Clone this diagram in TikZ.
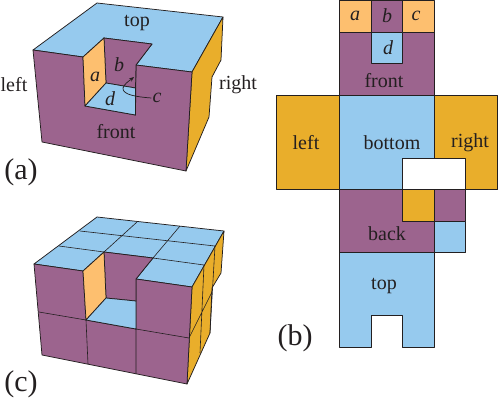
\documentclass[tikz,border=0pt]{standalone}
\usepackage{fontspec}
\setmainfont{Liberation Serif}
\usetikzlibrary{arrows.meta}
\definecolor{pur}{HTML}{9C648E}
\definecolor{blu}{HTML}{96CAEE}
\definecolor{yel}{HTML}{E9AE2B}
\definecolor{lor}{HTML}{FDBF6F}
\definecolor{ink}{HTML}{231F20}
\tikzset{
 face/.style={draw=ink,line width=0.75pt,line join=round},
 grid line/.style={draw=ink,line width=0.6pt},
 lab/.style={text=ink,font=\fontsize{20}{20}\selectfont,inner sep=0pt},
 ilab/.style={text=ink,font=\fontsize{20}{20}\selectfont\itshape,inner sep=0pt},
 plab/.style={text=ink,font=\fontsize{30}{30}\selectfont,inner sep=0pt},
}
\begin{document}
\begin{tikzpicture}[x=1pt,y=-1pt]
\useasboundingbox (0,0) rectangle (498,405);
% ---------- (a)
\draw[face,fill=blu] (97,3)--(223,17)--(192,72)--(136,65)--(152,44)--(104,38)--(83,57)--(33,50)--cycle;
\draw[face,fill=yel] (223,17)--(221,60)--(212,77)--(209,117)--(186,171)--(192,72)--cycle;
\draw[face,fill=pur] (33,50)--(83,57)--(85,106)--(135.5,115)--(136,65)--(192,72)--(186,171)--(42,142)--cycle;
\draw[face,fill=pur] (104,38)--(152,44)--(136,65)--(135.5,88)--(106,83)--cycle;
\draw[face,fill=lor] (83,57)--(104,38)--(106,83)--(85,106)--cycle;
\draw[face,fill=blu] (106,83)--(135.5,88)--(135.5,115)--(85,106)--cycle;
\node[lab] (atop) at (137,23) {top};
\node[lab] (aleft) at (14,85) {left};
\node[lab] (aright) at (238,85) {right};
\node[lab] (afront) at (116,132) {front};
\node[ilab] (aa) at (95,77) {a};
\node[ilab] (ab) at (119,65) {b};
\node[ilab] (ac) at (157,98) {c};
\node[ilab] (ad) at (110,99) {d};
\coordinate (arrowend) at (134,77);
\draw[draw=ink,line width=0.7pt,-{Stealth[length=5pt,width=4pt]}] (ac.west) ++(-1,0) .. controls (138,97) and (122,95) .. (123,88) .. controls (124,84) and (129,81) .. (arrowend);
\node[plab] (pa) at (21,172) {(a)};
% ---------- (c)
\draw[face,fill=blu] (97,217)--(224,231)--(192,287)--(136,279)--(153,258)--(104,252)--(83,271)--(34,264)--cycle;
\draw[face,fill=yel] (224,231)--(221,273)--(212,288)--(210,333)--(187,384)--(192,287)--cycle;
\draw[face,fill=pur] (34,264)--(83,271)--(86,320)--(136,329)--(136,279)--(192,287)--(187,384)--(42,355)--cycle;
\draw[face,fill=pur] (104,252)--(153,258)--(136,279)--(136,301)--(106,298)--cycle;
\draw[face,fill=lor] (83,271)--(104,252)--(106,298)--(86,320)--cycle;
\draw[face,fill=blu] (106,298)--(136,301)--(136,329)--(86,320)--cycle;
\draw[grid line] (59,246)--(104,252) (153,258)--(204,265) (80,231)--(215,246) (137,222)--(104,252) (180,226)--(153,258);
\draw[grid line] (39,312)--(86,320) (136,329)--(189,338) (86,320)--(88,364) (136,329)--(136,374);
\draw[grid line] (204,265)--(200,353) (215,246)--(210,333) (212,292)--(189,338);
\node[plab] (pc) at (21,384) {(c)};
% ---------- (b)
\draw[face,fill=lor] (339.5,0) rectangle (371,32);
\draw[face,fill=pur] (371,0) rectangle (402.5,32);
\draw[face,fill=lor] (402.5,0) rectangle (434,32);
\draw[face,fill=pur] (339.5,32) rectangle (434,95);
\draw[face,fill=blu] (371,32) rectangle (402.5,63.5);
\draw[face,fill=yel] (276.5,95) rectangle (339.5,189.5);
\draw[face,fill=yel] (434,95) rectangle (497.5,189.5);
\draw[face,fill=blu] (339.5,95) rectangle (434,189.5);
\draw[face,fill=white] (402.5,158.5) rectangle (465.5,189.5);
\draw[face,fill=pur] (339.5,189.5) rectangle (434,252.5);
\draw[face,fill=yel] (402.5,189.5) rectangle (434,221);
\draw[face,fill=pur] (434,189.5) rectangle (465.5,221);
\draw[face,fill=blu] (434,221) rectangle (465.5,252.5);
\draw[face,fill=blu] (339.5,252.5)--(434,252.5)--(434,347.5)--(402.5,347.5)--(402.5,315.5)--(371,315.5)--(371,347.5)--(339.5,347.5)--cycle;
\node[ilab] (na) at (355,16) {a};
\node[ilab] (nb) at (387,16) {b};
\node[ilab] (nc) at (416,16) {c};
\node[ilab] (nd) at (388,48) {d};
\node[lab] (nfront) at (384,81) {front};
\node[lab] (nleft) at (306,143) {left};
\node[lab] (nbottom) at (392,143) {bottom};
\node[lab] (nright) at (470,143) {right};
\node[lab] (nback) at (387,234) {back};
\node[lab] (ntop) at (384,286) {top};
\node[plab] (pb) at (295,338) {(b)};
\end{tikzpicture}
\end{document}
